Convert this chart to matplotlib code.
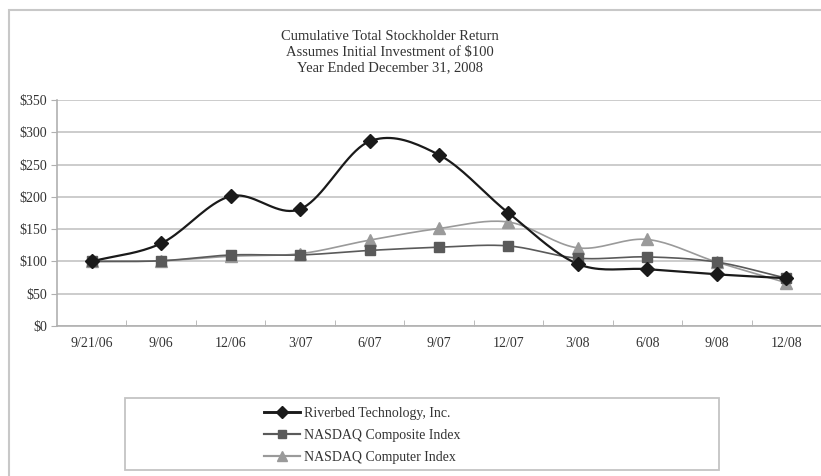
import numpy as np
import matplotlib
matplotlib.use("Agg")
import matplotlib.pyplot as plt
from matplotlib.patches import Rectangle

# --- dados ---
periods = ["9/21/06", "9/06", "12/06", "3/07", "6/07", "9/07",
           "12/07", "3/08", "6/08", "9/08", "12/08"]
riverbed = [100, 128, 201, 181, 286, 265, 175, 96, 88, 80, 74]
nasdaq_comp = [100, 101, 110, 110, 117, 122, 124, 105, 107, 99, 74]
nasdaq_computer = [100, 101, 108, 112, 133, 151, 161, 121, 134, 99, 67]
yticks = [0, 50, 100, 150, 200, 250, 300, 350]


def smooth(xs, ys, n=20):
    # catmull-rom, parecido com a linha suavizada do Excel
    xs = np.asarray(xs, float)
    ys = np.asarray(ys, float)
    px = np.concatenate([[2 * xs[0] - xs[1]], xs, [2 * xs[-1] - xs[-2]]])
    py = np.concatenate([[2 * ys[0] - ys[1]], ys, [2 * ys[-1] - ys[-2]]])
    outx, outy = [], []
    t = np.linspace(0, 1, n, endpoint=False)
    for i in range(1, len(px) - 2):
        for p, out in ((px, outx), (py, outy)):
            p0, p1, p2, p3 = p[i - 1], p[i], p[i + 1], p[i + 2]
            out.extend(0.5 * ((2 * p1) + (-p0 + p2) * t
                              + (2 * p0 - 5 * p1 + 4 * p2 - p3) * t ** 2
                              + (-p0 + 3 * p1 - 3 * p2 + p3) * t ** 3))
    outx.append(xs[-1])
    outy.append(ys[-1])
    return outx, outy


plt.rcParams['font.family'] = ['Liberation Serif', 'DejaVu Serif']
txt = "#333333"

fig = plt.figure(figsize=(8.21, 4.76), dpi=100)
W, H = 821, 476

# moldura externa (cortada à direita e embaixo)
fig.patches.append(Rectangle((9 / W, -0.1), 1.2, 1 - 10 / H + 0.1,
                             transform=fig.transFigure, fill=False,
                             edgecolor="#c8c8c8", lw=1.5))

ax = fig.add_axes([57 / W, 1 - 326 / H, (821 - 57) / W, (326 - 100) / H])
x = np.arange(len(periods))

series = [
    (riverbed, "Riverbed Technology, Inc.", "#1a1a1a", "D", 7.5, 1.6),
    (nasdaq_comp, "NASDAQ Composite Index", "#5a5a5a", "s", 7.5, 1.2),
    (nasdaq_computer, "NASDAQ Computer Index", "#9a9a9a", "^", 8.5, 1.2),
]
handles = []
for vals, lab, col, mk, ms, lw in reversed(series):
    sx, sy = smooth(x, vals)
    ax.plot(sx, sy, color=col, lw=lw, zorder=3)
    ax.plot(x, vals, ls="none", marker=mk, ms=ms, color=col, zorder=4)
for vals, lab, col, mk, ms, lw in series:
    h, = ax.plot([], [], color=col, lw=lw * 1.3, marker=mk, ms=ms * 0.8, label=lab)
    handles.append(h)

ax.set_xlim(-0.5, 10.41)
ax.set_ylim(0, 350)
ax.set_yticks(yticks)
ax.set_yticklabels([f"${v}" for v in yticks])
ax.set_xticks(x)
ax.set_xticklabels(periods)
ax.set_xticks(np.arange(len(periods)) + 0.5, minor=True)
ax.tick_params(axis="x", which="major", length=0, pad=8, labelsize=10, labelcolor=txt)
ax.tick_params(axis="x", which="minor", length=4, direction="in", color="#b0b0b0")
ax.tick_params(axis="y", length=4, direction="out", color="#b0b0b0", pad=3,
               labelsize=10, labelcolor=txt)
ax.grid(axis="y", color="#c4c4c4", lw=1.2)
ax.set_axisbelow(True)
for s in ["top", "right"]:
    ax.spines[s].set_visible(False)
for s in ["left", "bottom"]:
    ax.spines[s].set_color("#b0b0b0")
    ax.spines[s].set_linewidth(1.2)

# título
for i, line in enumerate(["Cumulative Total Stockholder Return",
                          "Assumes Initial Investment of $100",
                          "Year Ended December 31, 2008"]):
    fig.text(390 / W, 1 - (37 + 15.5 * i) / H, line, ha="center", va="center",
             fontsize=10.5, color=txt)

# legenda
fig.patches.append(Rectangle((125 / W, 1 - 470 / H), (719 - 125) / W, (470 - 398) / H,
                             transform=fig.transFigure, fill=False,
                             edgecolor="#c4c4c4", lw=1.3))
fig.legend(handles=handles, loc="upper left", bbox_to_anchor=(258 / W, 1 - 401 / H),
           frameon=False, fontsize=10, labelcolor=txt, handlelength=2.6,
           handletextpad=0.3, labelspacing=0.65, borderaxespad=0)

fig.savefig("out.png", dpi=100)
